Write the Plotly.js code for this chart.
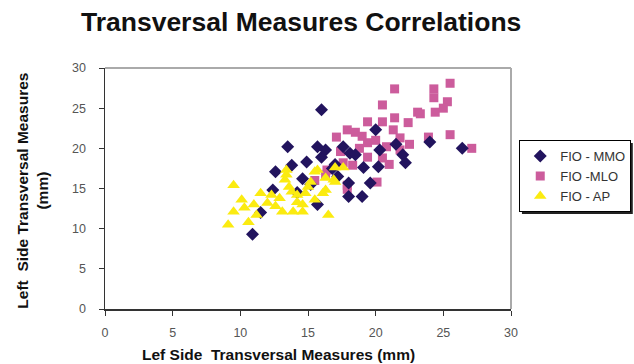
<!DOCTYPE html>
<html>
<head>
<meta charset="utf-8">
<script src="https://cdn.plot.ly/plotly-3.0.1.min.js"></script>
<style>html,body{margin:0;padding:0;background:#fff;}#chart{width:634px;height:364px;}</style>
</head>
<body>
<div id="chart"></div>
<script>
const seriesNames = ["FIO - MMO", "FIO -MLO", "FIO - AP"];

const mmoX = [10.9,11.5,12.4,12.6,13.5,13.8,14.6,14.9,15.7,15.7,16.0,16.0,16.3,17.6,18.1,18.5,18.0,18.0,19.0,19.1,19.6,20.0,20.3,20.2,22.2,24.0,26.4,16.8,17.2,15.2,14.2,21.5,22.0,17.0];
const mmoY = [9.3,12.0,14.8,17.1,20.2,17.9,16.2,18.3,13.0,20.2,24.8,18.9,19.8,20.2,19.4,19.2,15.7,14.0,14.0,17.6,15.7,22.3,19.8,17.7,18.2,20.8,20.0,17.5,16.5,15.5,14.5,20.5,19.2,18.0];

const mloX = [25.5,24.3,21.4,24.3,25.3,24.4,25.0,20.5,23.1,23.3,21.4,19.4,22.4,20.5,17.9,18.5,17.1,21.3,21.8,23.9,25.5,27.1,19.4,20.8,21.8,19.4,20.5,17.4,17.6,18.3,16.4,20.1,17.9,17.9,16.3,19.0,20.0,22.5,21.0,18.8,15.5];
const mloY = [28.1,27.4,27.4,26.3,25.8,24.5,25.0,25.4,24.5,24.3,23.8,23.3,23.2,23.3,22.3,22.0,21.4,22.3,21.3,21.4,21.7,20.0,20.7,20.2,19.8,18.9,18.8,19.6,18.2,17.9,17.3,15.8,15.4,14.9,16.7,21.5,21.0,20.5,18.0,20.0,16.0];

const apX = [9.5,10.1,9.5,9.1,10.6,10.3,11.2,11.5,12.0,12.3,13.1,13.4,13.3,13.9,14.6,14.2,12.9,13.4,13.8,14.2,14.8,15.0,15.7,15.5,16.3,16.5,17.0,17.6,16.9,16.3,15.5,15.2,17.0,16.1,14.6,13.6,12.6,11.0];
const apY = [15.4,13.6,12.1,10.5,10.8,12.6,11.7,14.4,13.2,14.2,12.1,17.3,16.1,12.1,12.1,14.2,13.8,16.7,14.6,13.3,14.4,15.2,17.3,13.6,16.3,11.7,17.6,17.6,16.1,14.8,17.1,15.8,15.8,14.4,13.0,15.2,12.8,13.0];

const axisTicks = [0,5,10,15,20,25,30];
const xTitle = 'Lef Side  Transversal Measures (mm)';
const yTitle = 'Left  Side Transversal Measures<br>(mm)';

const traces = [
  {x: mloX, y: mloY, name: seriesNames[1], type: 'scatter', mode: 'markers', legendrank: 2,
   marker: {symbol: 'square', size: 9, color: '#cc5c9c'}},
  {x: mmoX, y: mmoY, name: seriesNames[0], type: 'scatter', mode: 'markers', legendrank: 1,
   marker: {symbol: 'diamond', size: 10, color: '#22145e'}},
  {x: apX, y: apY, name: seriesNames[2], type: 'scatter', mode: 'markers', legendrank: 3,
   marker: {symbol: 'triangle-up', size: 11, color: '#fbeb10'}}
];

const layout = {
  width: 634, height: 364,
  margin: {l: 105, r: 123, t: 68, b: 55, autoexpand: false},
  paper_bgcolor: '#fff', plot_bgcolor: '#fff',
  font: {family: 'Liberation Sans, Arial, sans-serif', color: '#555'},
  title: {text: '<b>Transversal Measures Correlations</b>', font: {size: 26.5, color: '#111', family: 'Liberation Sans, Arial, sans-serif'},
          x: 0.475, xanchor: 'center', y: 0.94, yanchor: 'middle'},
  xaxis: {range: [0, 30], tickvals: axisTicks, ticks: 'outside', ticklen: 5, tickcolor: '#333',
          showline: true, linecolor: '#333', linewidth: 1.5, showgrid: false, zeroline: false,
          tickfont: {size: 12.5, color: '#555'}, ticklabelstandoff: 6},
  yaxis: {range: [0, 30], tickvals: axisTicks, ticks: 'outside', ticklen: 5, tickcolor: '#333',
          showline: true, linecolor: '#333', linewidth: 1.5, showgrid: false, zeroline: false,
          tickfont: {size: 12.5, color: '#555'}, ticklabelstandoff: 10},
  annotations: [
    {text: '<b>' + xTitle + '</b>', xref: 'paper', yref: 'paper', x: 0.428, y: -0.19, xanchor: 'center', yanchor: 'middle',
     showarrow: false, font: {size: 15.5, color: '#111'}},
    {text: '<b>' + yTitle + '</b>', xref: 'paper', yref: 'paper', x: -0.178, y: 0.49, xanchor: 'center', yanchor: 'middle',
     textangle: -90, showarrow: false, font: {size: 15.5, color: '#111'}}
  ],
  showlegend: true,
  legend: {xref: 'container', yref: 'container', x: 0.819, xanchor: 'left', y: 0.615, yanchor: 'top',
           bordercolor: '#000', borderwidth: 1, bgcolor: '#fff', font: {size: 13, color: '#333'},
           tracegroupgap: 0, itemwidth: 30},
  shapes: [
    {type: 'line', xref: 'paper', yref: 'paper', x0: 0, x1: 1, y0: 1, y1: 1, line: {color: '#aaa', width: 2}},
    {type: 'line', xref: 'paper', yref: 'paper', x0: 1, x1: 1, y0: 0, y1: 1, line: {color: '#aaa', width: 2}},
    {type: 'rect', xref: 'paper', yref: 'paper', x0: 1.027, x1: 1.300, y0: 0.394, y1: 0.689,
     fillcolor: '#222', line: {width: 0}, layer: 'below'}
  ]
};

Plotly.newPlot('chart', traces, layout, {displayModeBar: false, staticPlot: true});
</script>
</body>
</html>
